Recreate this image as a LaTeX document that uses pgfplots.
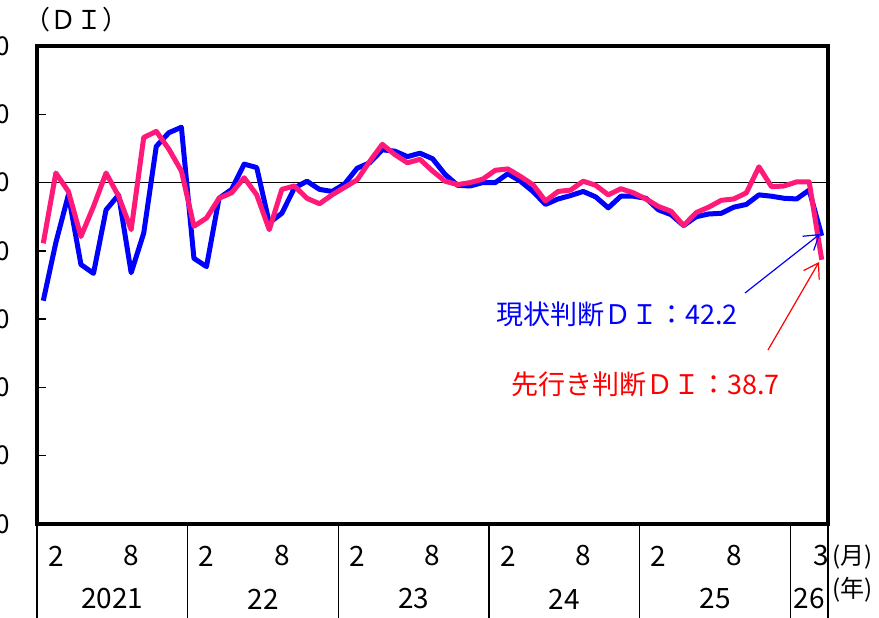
\documentclass[border=0pt]{standalone}
\usepackage{fontspec}
\setmainfont{Noto Sans CJK JP}
\usepackage{pgfplots}
\pgfplotsset{compat=1.18}
\usetikzlibrary{arrows.meta}
\definecolor{diblue}{RGB}{0,0,255}
\definecolor{dipink}{RGB}{255,25,120}
\definecolor{dired}{RGB}{255,0,0}

% 現状判断DI (blue), 2021/1 - 2026/3
\pgfplotstableread{
i v
0 32.7
1 41.2
2 48.2
3 38.0
4 36.7
5 46.0
6 48.2
7 36.8
8 42.6
9 55.3
10 57.3
11 58.1
12 38.9
13 37.7
14 47.7
15 49.0
16 52.7
17 52.2
18 44.1
19 45.5
20 49.2
21 50.2
22 49.0
23 48.7
24 49.8
25 52.1
26 52.9
27 54.8
28 54.6
29 53.8
30 54.3
31 53.5
32 51.2
33 49.6
34 49.5
35 50.0
36 50.0
37 51.3
38 50.2
39 48.7
40 46.8
41 47.6
42 48.1
43 48.7
44 47.9
45 46.3
46 48.0
47 48.0
48 47.7
49 46.0
50 45.3
51 43.7
52 45.0
53 45.4
54 45.5
55 46.4
56 46.8
57 48.2
58 48.0
59 47.7
60 47.6
61 48.9
62 42.2
}\genzai

% 先行き判断DI (pink)
\pgfplotstableread{
i v
0 41.1
1 51.4
2 48.7
3 42.1
4 46.5
5 51.4
6 48.0
7 43.1
8 56.6
9 57.5
10 54.9
11 51.7
12 43.6
13 44.8
14 47.7
15 48.5
16 50.7
17 48.2
18 43.1
19 49.0
20 49.5
21 47.7
22 46.9
23 48.2
24 49.3
25 50.4
26 53.1
27 55.6
28 54.1
29 52.9
30 53.4
31 51.7
32 50.2
33 49.7
34 50.0
35 50.5
36 51.8
37 52.0
38 50.9
39 49.7
40 47.3
41 48.7
42 48.9
43 50.2
44 49.6
45 48.2
46 49.1
47 48.5
48 47.6
49 46.5
50 45.8
51 43.7
52 45.6
53 46.4
54 47.4
55 47.6
56 48.5
57 52.3
58 49.4
59 49.5
60 50.1
61 50.1
62 38.7
}\sakiyuki

\begin{document}
\begin{tikzpicture}[x=1pt,y=1pt]
\begin{axis}[
  at={(37pt,94pt)}, anchor=south west,
  scale only axis, width=791pt, height=478pt,
  xmin=-0.5, xmax=62.5, ymin=0, ymax=70,
  axis line style={line width=4.5pt},
  clip=false,
  xtick={1,7,13,19,25,31,37,43,49,55,62},
  xticklabels={2,8,2,8,2,8,2,8,2,8,3},
  xtick style={draw=none},
  xticklabel style={font=\fontsize{28}{30}\selectfont, anchor=center, yshift=-32pt},
  ytick={0,10,...,70},
  ytick pos=left, tick align=inside,
  ytick style={line width=1.5pt, black},
  major tick length=9pt,
  yticklabel style={font=\fontsize{26}{28}\selectfont, xshift=-24pt},
  /pgf/number format/assume math mode=true,
]
\addplot[black, line width=1.8pt] coordinates {(-0.5,50) (62.5,50)};
\addplot[diblue, line width=5pt, line join=round] table[x=i,y=v]{\genzai};
\addplot[dipink, line width=5pt, line join=round] table[x=i,y=v]{\sakiyuki};

% year separators below the axis
\draw[line width=1.2pt] (axis cs:-0.5,0) -- ++(0pt,-96pt);
\draw[line width=1.2pt] (axis cs:11.5,0) -- ++(0pt,-96pt);
\draw[line width=1.2pt] (axis cs:23.5,0) -- ++(0pt,-96pt);
\draw[line width=1.2pt] (axis cs:35.5,0) -- ++(0pt,-96pt);
\draw[line width=1.2pt] (axis cs:47.5,0) -- ++(0pt,-96pt);
\draw[line width=1.2pt] (axis cs:59.5,0) -- ++(0pt,-96pt);
\draw[line width=1.2pt] (axis cs:62.5,0) -- ++(0pt,-96pt);

% year labels
\node[font=\fontsize{28}{30}\selectfont] at (axis cs:5.5,0) [yshift=-75pt] {2021};
\node[font=\fontsize{28}{30}\selectfont] at (axis cs:17.5,0) [yshift=-75pt] {22};
\node[font=\fontsize{28}{30}\selectfont] at (axis cs:29.5,0) [yshift=-75pt] {23};
\node[font=\fontsize{28}{30}\selectfont] at (axis cs:41.5,0) [yshift=-75pt] {24};
\node[font=\fontsize{28}{30}\selectfont] at (axis cs:53.5,0) [yshift=-75pt] {25};
\node[font=\fontsize{28}{30}\selectfont] at (axis cs:61,0) [yshift=-75pt] {26};
\end{axis}

\node[anchor=west, inner sep=0, font=\fontsize{26}{28}\selectfont] at (24,598) {（ＤＩ）};
\node[anchor=west, inner sep=0, font=\fontsize{24}{26}\selectfont] at (832,61) {(月)};
\node[anchor=west, inner sep=0, font=\fontsize{24}{26}\selectfont] at (832,28) {(年)};

\node[anchor=west, inner sep=0, text=diblue, font=\fontsize{27}{29}\selectfont] at (496,304) {現状判断ＤＩ：42.2};
\node[anchor=west, inner sep=0, text=dired, font=\fontsize{27}{29}\selectfont] at (511,234) {先行き判断ＤＩ：38.7};
\draw[diblue, line width=1.2pt, -{Straight Barb[length=14pt,width=18pt]}] (745,325) -- (820,384);
\draw[dired, line width=1.2pt, -{Straight Barb[length=14pt,width=18pt]}] (768,268) -- (819,356);

\pgfresetboundingbox
\useasboundingbox (0,0) rectangle (879,618);
\end{tikzpicture}
\end{document}
